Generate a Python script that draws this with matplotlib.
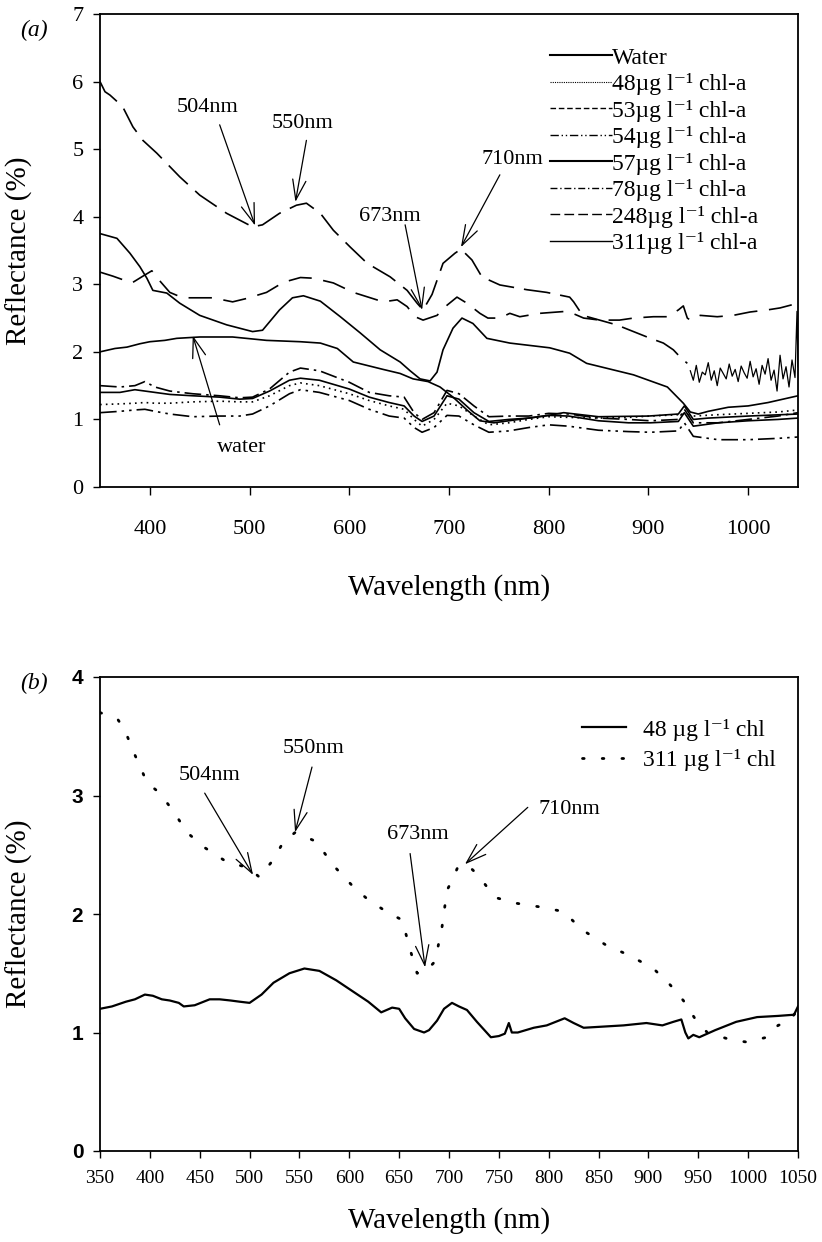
import matplotlib
matplotlib.use('Agg')
import matplotlib.pyplot as plt
from matplotlib.lines import Line2D

plt.rcParams['font.family'] = ['Liberation Serif', 'DejaVu Serif']
plt.rcParams['mathtext.fontset'] = 'stix'

# ---- panel (a) data ----
wl_248 = [350, 355, 360, 366, 373, 383, 393, 407, 430, 450, 477, 490, 503, 513, 530, 547, 557, 571, 584, 601,
          618, 641, 658, 668, 674, 683, 694, 706, 712, 723, 733, 751, 778, 798, 821, 825, 834, 851, 868, 885,
          902, 915, 925, 932, 939]
r_248 = [6.0, 5.85, 5.8, 5.72, 5.62, 5.33, 5.13, 4.94, 4.59, 4.32, 4.05, 3.95, 3.85, 3.88, 4.05, 4.17, 4.2, 4.05, 3.8, 3.55,
         3.31, 3.11, 2.91, 2.72, 2.62, 2.85, 3.31, 3.46, 3.52, 3.36, 3.11, 2.99, 2.92, 2.88, 2.81, 2.74, 2.54, 2.47, 2.4, 2.3,
         2.2, 2.13, 2.03, 1.92, 1.83]
# noisy end of the 248 spectrum
wl_248_tail = [942, 945, 948, 951, 954, 957, 960, 963, 966, 969, 972, 975, 978, 981, 984, 987, 990, 993, 996, 999,
               1002, 1005, 1008, 1011, 1014, 1017, 1020, 1023, 1026, 1029, 1032, 1035, 1038, 1041, 1044, 1047, 1049, 1050]
r_248_tail = [1.72, 1.58, 1.80, 1.55, 1.70, 1.66, 1.84, 1.58, 1.72, 1.50, 1.76, 1.68, 1.60, 1.82, 1.64, 1.74, 1.56, 1.79, 1.69, 1.61,
              1.86, 1.63, 1.75, 1.52, 1.80, 1.67, 1.90, 1.58, 1.73, 1.42, 1.95, 1.60, 1.78, 1.48, 1.88, 1.62, 2.60, 1.78]

wl_311 = [350, 367, 380, 390, 397, 403, 417, 430, 450, 477, 503, 513, 530, 543, 554, 571, 591, 611, 631, 651,
          661, 671, 681, 688, 694, 704, 713, 724, 738, 761, 801, 821, 838, 885, 919, 935, 942, 950, 960, 980,
          1000, 1020, 1035, 1050]
r_311 = [3.75, 3.68, 3.46, 3.26, 3.09, 2.91, 2.87, 2.72, 2.54, 2.4, 2.3, 2.32, 2.62, 2.8, 2.83, 2.75, 2.52, 2.28, 2.03, 1.85,
         1.72, 1.6, 1.57, 1.7, 2.03, 2.35, 2.5, 2.42, 2.2, 2.13, 2.06, 1.98, 1.83, 1.66, 1.48, 1.24, 1.11, 1.08, 1.12, 1.18,
         1.2, 1.25, 1.3, 1.35]

wl_53 = [350, 363, 382, 393, 402, 410, 420, 433, 463, 483, 497, 517, 534, 551, 564, 584, 604, 634, 648, 658,
         666, 674, 688, 698, 708, 718, 731, 739, 751, 761, 771, 791, 818, 824, 835, 851, 871, 885, 905, 919,
         930, 935, 939, 942, 952, 969, 985, 1002, 1019, 1032, 1050]
r_53 = [3.18, 3.12, 3.02, 3.12, 3.2, 3.05, 2.88, 2.8, 2.8, 2.74, 2.79, 2.88, 3.03, 3.1, 3.09, 3.02, 2.88, 2.74, 2.77, 2.67,
        2.52, 2.47, 2.54, 2.69, 2.81, 2.72, 2.57, 2.5, 2.5, 2.57, 2.52, 2.57, 2.6, 2.57, 2.5, 2.47, 2.47, 2.5, 2.52, 2.52,
        2.62, 2.68, 2.5, 2.47, 2.54, 2.52, 2.54, 2.59, 2.62, 2.65, 2.72]

wl_water = [350, 365, 377, 390, 400, 415, 427, 450, 483, 517, 551, 571, 588, 604, 634, 651, 664, 679, 691, 704,
            718, 731, 745, 770, 800, 815, 850, 900, 930, 936, 945, 960, 1000, 1050]
r_water = [2.0, 2.05, 2.07, 2.12, 2.15, 2.17, 2.2, 2.22, 2.22, 2.17, 2.15, 2.13, 2.05, 1.85, 1.74, 1.68, 1.6, 1.56, 1.48, 1.33,
           1.14, 0.98, 0.95, 1.0, 1.06, 1.1, 1.04, 1.05, 1.08, 1.2, 1.0, 1.02, 1.05, 1.08]

# the four low-chlorophyll spectra share one wavelength grid
wl_low = [350, 370, 385, 395, 405, 420, 443, 470, 490, 503, 520, 540, 551, 570, 600, 620, 640, 655, 665, 673,
          685, 698, 710, 725, 740, 760, 780, 800, 820, 850, 880, 902, 930, 936, 945, 970, 1000, 1030, 1050]
r_48 = [1.22, 1.23, 1.24, 1.25, 1.24, 1.24, 1.26, 1.27, 1.26, 1.26, 1.35, 1.5, 1.54, 1.5, 1.38, 1.28, 1.2, 1.15, 1.0, 0.9,
        1.0, 1.24, 1.2, 1.05, 0.92, 0.95, 1.0, 1.04, 1.03, 1.02, 1.03, 1.05, 1.07, 1.08, 1.05, 1.07, 1.09, 1.11, 1.14]
r_54 = [1.1, 1.12, 1.14, 1.15, 1.12, 1.08, 1.04, 1.05, 1.05, 1.08, 1.2, 1.38, 1.44, 1.4, 1.28, 1.15, 1.05, 1.02, 0.88, 0.81,
        0.88, 1.06, 1.05, 0.92, 0.81, 0.83, 0.88, 0.92, 0.9, 0.84, 0.82, 0.81, 0.83, 0.95, 0.75, 0.7, 0.7, 0.72, 0.74]
r_57 = [1.4, 1.4, 1.44, 1.42, 1.4, 1.37, 1.35, 1.33, 1.3, 1.31, 1.42, 1.58, 1.61, 1.58, 1.45, 1.33, 1.25, 1.2, 1.05, 0.97,
        1.05, 1.35, 1.3, 1.1, 0.97, 1.0, 1.02, 1.06, 1.05, 0.98, 0.95, 0.95, 0.97, 1.1, 0.9, 0.95, 0.98, 1.0, 1.02]
r_78 = [1.5, 1.48, 1.5, 1.56, 1.48, 1.42, 1.38, 1.35, 1.32, 1.33, 1.45, 1.7, 1.76, 1.72, 1.55, 1.4, 1.35, 1.33, 1.1, 1.0,
        1.1, 1.43, 1.38, 1.2, 1.04, 1.05, 1.05, 1.09, 1.08, 1.02, 1.0, 0.98, 1.0, 1.15, 0.95, 0.95, 1.0, 1.05, 1.1]

legend_a = ['Water', '48', '53', '54', '57', '78', '248', '311']

# ---- panel (b) data ----
wl_b48 = [350, 362, 376, 385, 395, 403, 412, 420, 429, 434, 445, 460, 470, 481, 490, 500, 512, 524, 540, 555,
          570, 587, 603, 619, 632, 643, 650, 656, 665, 675, 680, 688, 695, 703, 710, 718, 728, 742, 750, 756,
          760, 763, 769, 785, 798, 810, 816, 825, 835, 855, 875, 898, 914, 925, 933, 937, 940, 945, 951, 967,
          988, 1009, 1030, 1046, 1050]
r_b48 = [1.2, 1.22, 1.26, 1.28, 1.32, 1.31, 1.28, 1.27, 1.25, 1.22, 1.23, 1.28, 1.28, 1.27, 1.26, 1.25, 1.32, 1.42, 1.5, 1.54,
         1.52, 1.44, 1.35, 1.26, 1.17, 1.21, 1.2, 1.12, 1.03, 1.0, 1.02, 1.1, 1.2, 1.25, 1.22, 1.19, 1.09, 0.96, 0.97, 0.99,
         1.08, 1.0, 1.0, 1.04, 1.06, 1.1, 1.12, 1.08, 1.04, 1.05, 1.06, 1.08, 1.06, 1.09, 1.11, 1.0, 0.95, 0.98, 0.96, 1.02,
         1.09, 1.13, 1.14, 1.15, 1.22]
wl_b311 = [350, 368, 375, 383, 393, 397, 410, 425, 437, 455, 477, 499, 510, 524, 534, 546, 567, 584, 604, 619,
           639, 653, 661, 668, 676, 686, 693, 698, 704, 709, 719, 729, 746, 768, 791, 815, 833, 857, 881, 905,
           922, 935, 948, 959, 982, 998, 1019, 1030, 1040, 1050]
r_b311 = [3.7, 3.64, 3.55, 3.38, 3.19, 3.11, 3.02, 2.85, 2.69, 2.56, 2.44, 2.39, 2.31, 2.46, 2.61, 2.69, 2.61, 2.41, 2.23, 2.12,
          2.01, 1.95, 1.7, 1.5, 1.51, 1.6, 1.89, 2.2, 2.3, 2.4, 2.41, 2.33, 2.14, 2.09, 2.06, 2.02, 1.87, 1.74, 1.65, 1.54,
          1.4, 1.27, 1.1, 1.0, 0.94, 0.92, 0.96, 1.06, 1.09, 1.19]

fig = plt.figure(figsize=(8.22, 12.42), dpi=100)
ax_a = fig.add_axes([100/822, 1 - 487/1242, 698/822, 473/1242])
ax_b = fig.add_axes([100/822, 1 - 1151/1242, 698/822, 474/1242])

# ---------------- (a) ----------------
ax_a.plot(wl_248, r_248, color='k', lw=1.2, dashes=(16, 6))
ax_a.plot(wl_248_tail, r_248_tail, color='k', lw=0.9)
ax_a.plot(wl_311, r_311, color='k', lw=1.2)
ax_a.plot(wl_53, r_53, color='k', lw=1.2, dashes=(14, 7))
ax_a.plot(wl_water, r_water, color='k', lw=1.2)
ax_a.plot(wl_low, r_78, color='k', lw=1.2, dashes=(10, 3, 1.5, 3))
ax_a.plot(wl_low, r_57, color='k', lw=1.2)
ax_a.plot(wl_low, r_48, color='k', lw=1.2, dashes=(1, 2.5))
ax_a.plot(wl_low, r_54, color='k', lw=1.2, dashes=(10, 3, 1.5, 3, 1.5, 3))

ax_a.set_xlim(350, 1050)
ax_a.set_ylim(0, 7)
ax_a.set_xticks([400, 500, 600, 700, 800, 900, 1000])
ax_a.set_yticks([0, 1, 2, 3, 4, 5, 6, 7])
ax_a.tick_params(axis='x', direction='out', length=6, width=1, pad=18, labelsize=16)
ax_a.tick_params(axis='y', direction='out', length=5, width=1, pad=7, labelsize=16)
for s in ax_a.spines.values():
    s.set_linewidth(1.3)
ax_a.set_xlabel('Wavelength (nm)', fontsize=21)
ax_a.xaxis.set_label_coords(0.5, -0.185)
ax_a.set_ylabel('Reflectance (%)', fontsize=21)
ax_a.yaxis.set_label_coords(-0.096, 0.5)

# legend with short dash patterns like the original
styles_a = [dict(lw=1.5), dict(lw=0.8, dashes=(1, 1)), dict(lw=1, dashes=(4, 2)),
            dict(lw=1, dashes=(6, 2, 1, 2, 1, 2)), dict(lw=1.5), dict(lw=1, dashes=(5, 2, 1, 2)),
            dict(lw=1, dashes=(7, 3)), dict(lw=1)]
handles_a = [Line2D([], [], color='k', **st) for st in styles_a]
labels_a = ['Water'] + [c + 'µg l⁻¹ chl-a' for c in legend_a[1:]]
ax_a.legend(handles_a, labels_a, loc='upper left', bbox_to_anchor=(0.645, 0.93), frameon=False,
            fontsize=17, handlelength=2.6, handletextpad=0.0, labelspacing=0.19, borderpad=0, borderaxespad=0)

arrow_kw = dict(arrowstyle='->,head_length=0.9,head_width=0.3', color='k', lw=0.9,
                shrinkA=0, shrinkB=0)
notes_a = [('504nm', (458, 5.61), (470, 5.36), (505.5, 3.87)),
           ('550nm', (553, 5.38), (557, 5.13), (546, 4.22)),
           ('673nm', (641, 4.0), (656, 3.88), (673, 2.62)),
           ('710nm', (764, 4.84), (751, 4.62), (712, 3.55)),
           ('water', (492, 0.58), (470, 0.92), (443, 2.24))]
for txt, pos, start, tip in notes_a:
    ax_a.text(pos[0], pos[1], txt, fontsize=16, ha='center', va='center')
    ax_a.annotate('', xy=tip, xytext=start, arrowprops=arrow_kw, fontsize=16)

fig.text(20/822, 1 - 30/1242, '(a)', fontsize=17, style='italic', ha='left', va='center')

# ---------------- (b) ----------------
ax_b.plot(wl_b48, r_b48, color='k', lw=1.6, label='48 µg l⁻¹ chl')
ax_b.plot(wl_b311, r_b311, color='k', lw=2.0, dashes=(0.6, 6.5), dash_capstyle='round',
          label='311 µg l⁻¹ chl')

ax_b.set_xlim(350, 1050)
ax_b.set_ylim(0, 4)
ax_b.set_xticks([350, 400, 450, 500, 550, 600, 650, 700, 750, 800, 850, 900, 950, 1000, 1050])
ax_b.set_yticks([0, 1, 2, 3, 4])
ax_b.tick_params(axis='x', direction='out', length=5, width=1, pad=9, labelsize=14)
ax_b.tick_params(axis='y', direction='out', length=5, width=1, pad=7, labelsize=15)
for lbl in ax_b.get_yticklabels():
    lbl.set_fontfamily('Liberation Sans')
    lbl.set_fontweight('bold')
for s in ax_b.spines.values():
    s.set_linewidth(1.3)
ax_b.set_xlabel('Wavelength (nm)', fontsize=21)
ax_b.xaxis.set_label_coords(0.5, -0.118)
ax_b.set_ylabel('Reflectance (%)', fontsize=21)
ax_b.yaxis.set_label_coords(-0.096, 0.5)

ax_b.legend(loc='upper left', bbox_to_anchor=(0.69, 0.912), frameon=False, fontsize=17,
            handlelength=1.9, handletextpad=0.7, labelspacing=0.35, borderpad=0, borderaxespad=0)

notes_b = [('504nm', (460, 3.17), (455, 3.02), (503.5, 2.33)),
           ('550nm', (564, 3.4), (562.6, 3.24), (545.6, 2.69)),
           ('673nm', (669, 2.67), (661, 2.51), (676, 1.55)),
           ('710nm', (821, 2.88), (779, 2.9), (716, 2.42))]
for txt, pos, start, tip in notes_b:
    ax_b.text(pos[0], pos[1], txt, fontsize=16, ha='center', va='center')
    ax_b.annotate('', xy=tip, xytext=start, arrowprops=arrow_kw, fontsize=16)

fig.text(20/822, 1 - 683/1242, '(b)', fontsize=17, style='italic', ha='left', va='center')

fig.savefig('out.png', dpi=100)
